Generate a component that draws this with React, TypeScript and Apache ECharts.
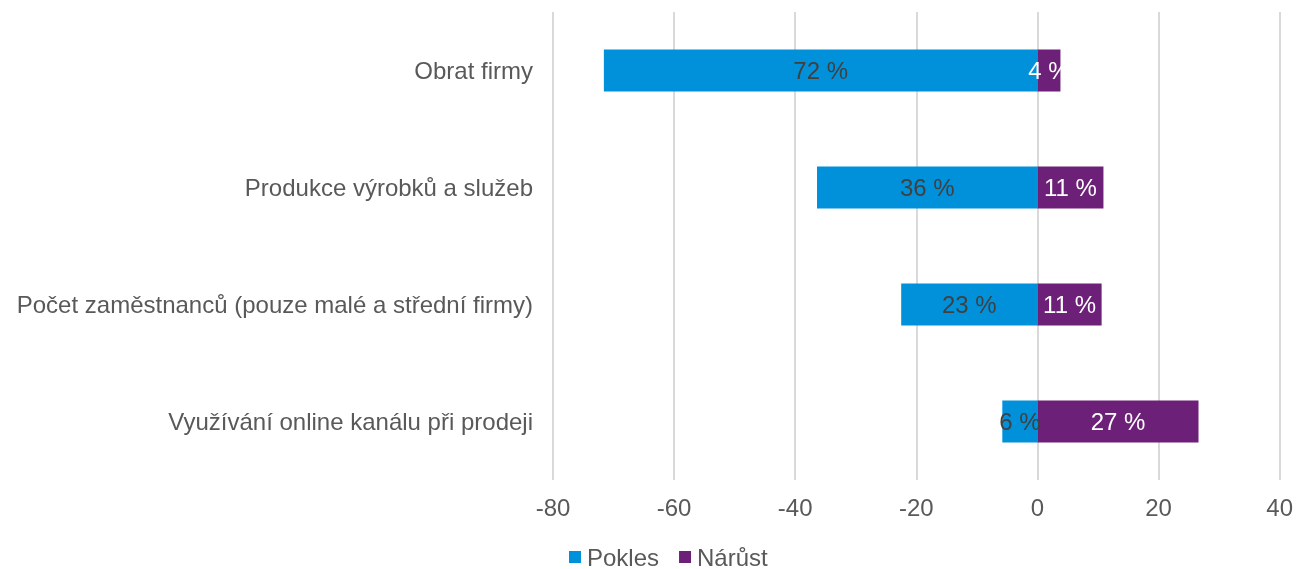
import React, { useEffect, useRef } from "react";
import * as echarts from "echarts";

const categories = [
  "Obrat firmy",
  "Produkce výrobků a služeb",
  "Počet zaměstnanců (pouze malé a střední firmy)",
  "Využívání online kanálu při prodeji",
];
const pokles = [-71.6, -36.4, -22.5, -5.8];
const narust = [3.8, 10.9, 10.6, 26.6];
const xTicks = { min: -80, max: 40, interval: 20 };

export default function App() {
  const ref = useRef<HTMLDivElement>(null);
  useEffect(() => {
    if (!ref.current) return;
    const chart = echarts.init(ref.current, null, { renderer: "svg" });
    const font = "'Liberation Sans', Arial, sans-serif";
    chart.setOption({
      animation: false,
      textStyle: { fontFamily: font },
      grid: { left: 553, right: 15, top: 12, bottom: 89, containLabel: false },
      legend: {
        top: 545,
        left: 569,
        icon: "rect",
        itemWidth: 12,
        itemHeight: 12,
        itemGap: 20,
        padding: 0,
        textStyle: { color: "#595959", fontSize: 24, lineHeight: 24, fontFamily: font, padding: [0, 0, 0, 1] },
        data: ["Pokles", "Nárůst"],
      },
      xAxis: {
        type: "value",
        min: xTicks.min,
        max: xTicks.max,
        interval: xTicks.interval,
        axisLine: { show: false },
        axisTick: { show: false },
        axisLabel: { color: "#595959", fontSize: 24, fontFamily: font, margin: 15 },
        splitLine: { show: true, lineStyle: { color: "#d9d9d9", width: 2 } },
      },
      yAxis: {
        type: "category",
        data: categories,
        inverse: true,
        axisLine: { show: false },
        axisTick: { show: false },
        axisLabel: { color: "#595959", fontSize: 24, fontFamily: font, margin: 20 },
        splitLine: { show: false },
      },
      series: [
        {
          name: "Pokles",
          type: "bar",
          stack: "total",
          data: pokles,
          barWidth: "36%",
          itemStyle: { color: "#0091DA" },
          label: {
            show: true,
            position: "inside",
            color: "#404040",
            fontSize: 24,
            fontFamily: font,
            formatter: (p: any) => `${Math.round(Math.abs(p.value))} %`,
          },
        },
        {
          name: "Nárůst",
          type: "bar",
          stack: "total",
          data: narust,
          barWidth: "36%",
          itemStyle: { color: "#6D2077" },
          label: {
            show: true,
            position: "inside",
            color: "#ffffff",
            fontSize: 24,
            fontFamily: font,
            formatter: (p: any) => `${Math.round(Math.abs(p.value))} %`,
          },
        },
      ],
    });
    return () => chart.dispose();
  }, []);
  return (
    <div
      ref={ref}
      style={{ position: "fixed", left: 0, top: 0, width: 1296, height: 569 }}
    />
  );
}
